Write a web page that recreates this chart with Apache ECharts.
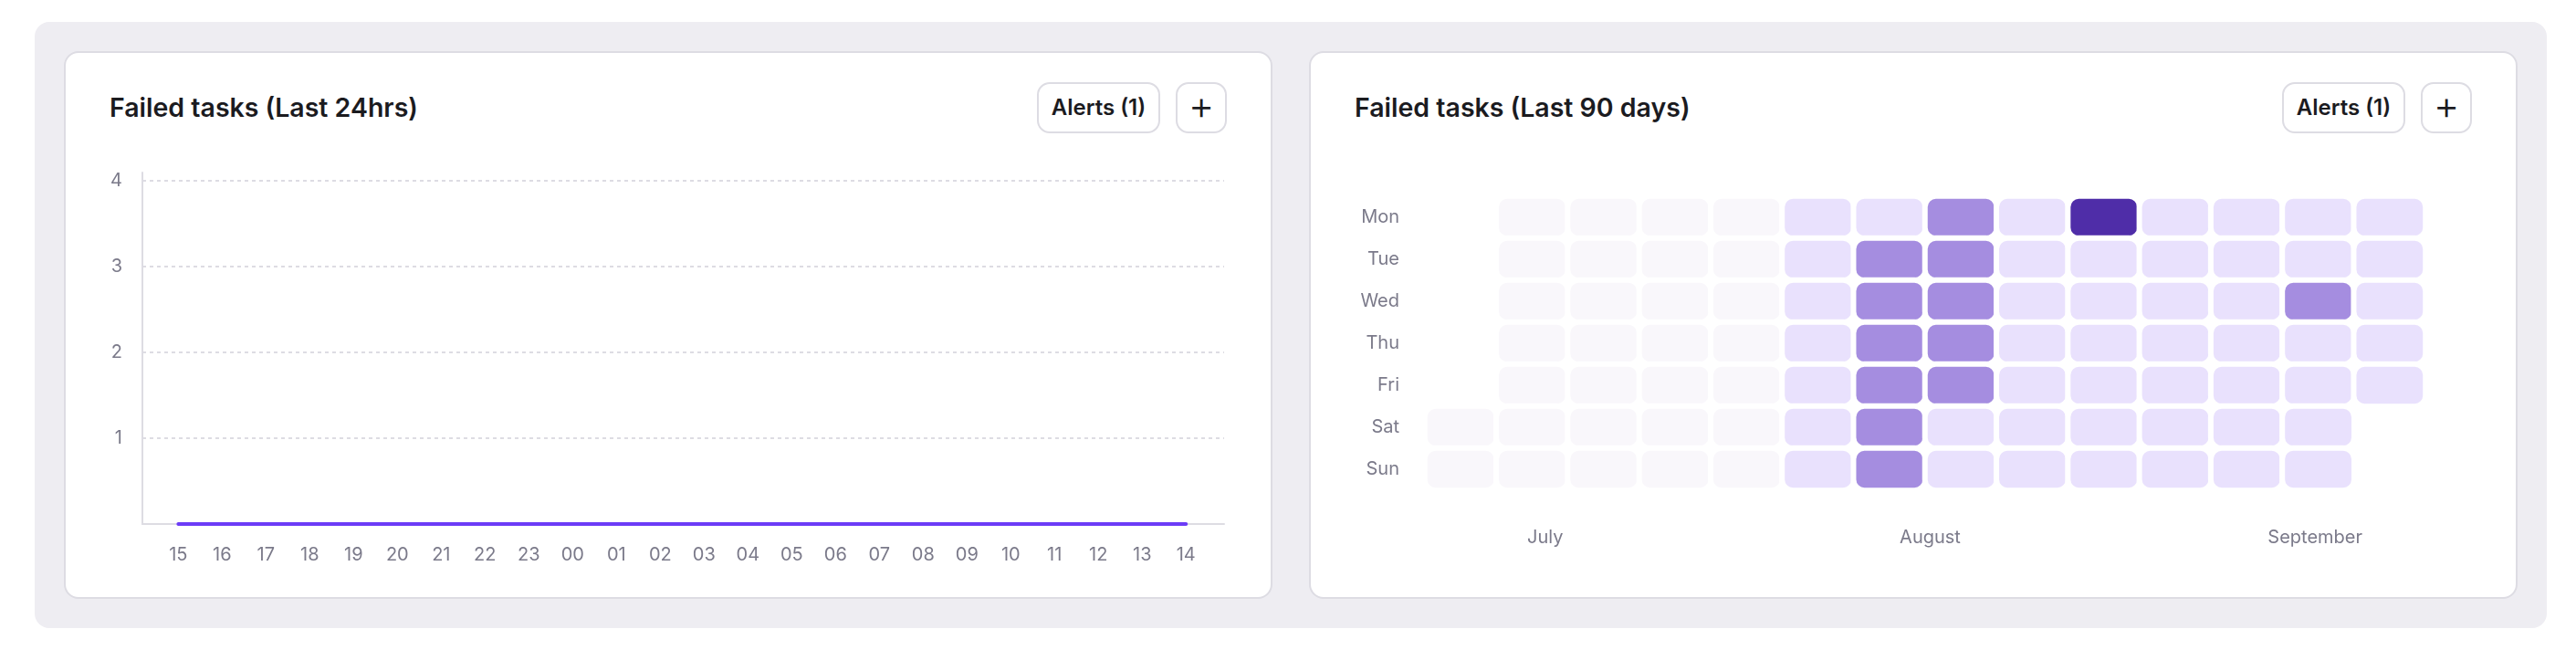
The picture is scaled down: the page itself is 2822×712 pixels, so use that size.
<!DOCTYPE html>
<html lang="en">
<head>
  <meta charset="UTF-8">
  <title>Failed tasks</title>
  <style>
    html, body { margin: 0; background: #fff; }
    body { position: relative; width: 2822px; height: 712px; overflow: hidden; font-family: Inter, sans-serif; }
    .panel { position: absolute; left: 38px; top: 24px; width: 2752px; height: 664px; background: #eeedf2; border-radius: 16px; }
    .card { position: absolute; top: 56px; width: 1324px; height: 600px; box-sizing: border-box; background: #fff; border: 2px solid #dddce3; border-radius: 16px; }
    .card-title { position: absolute; left: 48px; top: 43px; font-size: 28.5px; line-height: 34px; font-weight: 600; color: #1b1b1f; white-space: nowrap; }
    .btn { position: absolute; top: 32px; height: 56px; box-sizing: border-box; border: 2px solid #dddce3; border-radius: 14px; background: #fff; color: #1b1b1f; text-align: center; line-height: 52px; white-space: nowrap; }
    .btn-alerts { left: 1064px; width: 135px; font-size: 24px; font-weight: 600; }
    .btn-add { left: 1216px; width: 56px; font-size: 44px; font-weight: 300; line-height: 47px; }
    .chart { position: absolute; top: 57px; width: 1322px; height: 598px; }
  </style>
</head>
<body>
  <div class="panel"></div>

  <div class="card" style="left: 70px;">
    <div class="card-title">Failed tasks (Last 24hrs)</div>
    <div class="btn btn-alerts">Alerts (1)</div>
    <div class="btn btn-add">+</div>
  </div>
  <div class="card" style="left: 1434px;">
    <div class="card-title">Failed tasks (Last 90 days)</div>
    <div class="btn btn-alerts">Alerts (1)</div>
    <div class="btn btn-add">+</div>
  </div>

  <div class="chart" id="hours" style="left: 71px;"></div>
  <div class="chart" id="days" style="left: 1435px;"></div>

  <script src="https://cdn.jsdelivr.net/npm/echarts@6/dist/echarts.min.js"></script>
  <script>
    // last 24 hours
    var hourLabels = ['15', '16', '17', '18', '19', '20', '21', '22', '23', '00', '01', '02', '03', '04', '05', '06', '07', '08', '09', '10', '11', '12', '13', '14'];
    var hourFailed = [0, 0, 0, 0, 0, 0, 0, 0, 0, 0, 0, 0, 0, 0, 0, 0, 0, 0, 0, 0, 0, 0, 0, 0];
    var countTicks = [1, 2, 3, 4];

    // last 90 days, one array per weekday, one entry per week (null = no cell)
    var weekdays = ['Mon', 'Tue', 'Wed', 'Thu', 'Fri', 'Sat', 'Sun'];
    var months = ['July', 'August', 'September'];
    var mon = [null, 0, 0, 0, 0, 1, 1, 2, 1, 3, 1, 1, 1, 1];
    var tue = [null, 0, 0, 0, 0, 1, 2, 2, 1, 1, 1, 1, 1, 1];
    var wed = [null, 0, 0, 0, 0, 1, 2, 2, 1, 1, 1, 1, 2, 1];
    var thu = [null, 0, 0, 0, 0, 1, 2, 2, 1, 1, 1, 1, 1, 1];
    var fri = [null, 0, 0, 0, 0, 1, 2, 2, 1, 1, 1, 1, 1, 1];
    var sat = [0, 0, 0, 0, 0, 1, 2, 1, 1, 1, 1, 1, 1, null];
    var sun = [0, 0, 0, 0, 0, 1, 2, 1, 1, 1, 1, 1, 1, null];
    var dayRows = [mon, tue, wed, thu, fri, sat, sun];

    var textColor = '#7b7a8a';
    var lineColor = '#dddce3';
    var fontFamily = 'Inter, sans-serif';

    var hoursChart = echarts.init(document.getElementById('hours'));
    var daysChart = echarts.init(document.getElementById('days'));

    var hourIndex = hourLabels.map(function (h, i) { return i; });

    hoursChart.setOption({
      animation: false,
      textStyle: { fontFamily: fontFamily },
      grid: { left: 85, right: 52, top: 132, bottom: 81 },
      xAxis: {
        type: 'value',
        min: -0.82,
        max: 23.87,
        splitLine: { show: false },
        axisLine: { show: true, lineStyle: { color: lineColor, width: 2 } },
        axisTick: { show: false, customValues: hourIndex },
        axisLabel: {
          customValues: hourIndex,
          margin: 24,
          fontSize: 20,
          color: textColor,
          formatter: function (v) { return hourLabels[v]; }
        }
      },
      yAxis: {
        type: 'value',
        min: 0,
        max: 4.096,
        axisLine: { show: true, onZero: false, lineStyle: { color: lineColor, width: 2 } },
        axisTick: { show: false, customValues: countTicks },
        axisLabel: { customValues: countTicks, margin: 22, fontSize: 20, color: textColor },
        splitLine: { show: true, lineStyle: { color: lineColor, width: 2, type: [4, 4] } }
      },
      series: [{
        type: 'line',
        data: hourFailed.map(function (v, i) { return [i, v]; }),
        showSymbol: false,
        clip: false,
        lineStyle: { color: '#6c3cf7', width: 4, cap: 'round' }
      }]
    });

    var cells = [];
    dayRows.forEach(function (row, y) {
      row.forEach(function (v, x) {
        if (v !== null) cells.push([x, y, v]);
      });
    });

    daysChart.setOption({
      animation: false,
      textStyle: { fontFamily: fontFamily },
      grid: [
        { left: 126, width: 1096, top: 158, height: 322 },
        // month labels sit on their own wider band
        { left: 47, width: 1265, top: 510, height: 1 }
      ],
      xAxis: [
        {
          type: 'category',
          gridIndex: 0,
          data: mon.map(function (v, i) { return i; }),
          axisLine: { show: false },
          axisTick: { show: false },
          axisLabel: { show: false },
          splitLine: { show: false }
        },
        {
          type: 'category',
          gridIndex: 1,
          data: months,
          axisLine: { show: false },
          axisTick: { show: false },
          axisLabel: { margin: 11, fontSize: 20, color: textColor }
        }
      ],
      yAxis: [
        {
          type: 'category',
          gridIndex: 0,
          inverse: true,
          data: weekdays,
          axisLine: { show: false },
          axisTick: { show: false },
          axisLabel: { margin: 28, fontSize: 20, color: textColor },
          splitLine: { show: false }
        },
        { type: 'value', gridIndex: 1, show: false }
      ],
      visualMap: {
        show: false,
        type: 'piecewise',
        seriesIndex: 0,
        dimension: 2,
        pieces: [
          { value: 0, color: '#f9f7fb' },
          { value: 1, color: '#e9e1fd' },
          { value: 2, color: '#a58de0' },
          { value: 3, color: '#4f2da8' }
        ]
      },
      series: [{
        type: 'heatmap',
        data: cells,
        itemStyle: { borderColor: '#fff', borderWidth: 6, borderRadius: 12 }
      }]
    });
  </script>
</body>
</html>
